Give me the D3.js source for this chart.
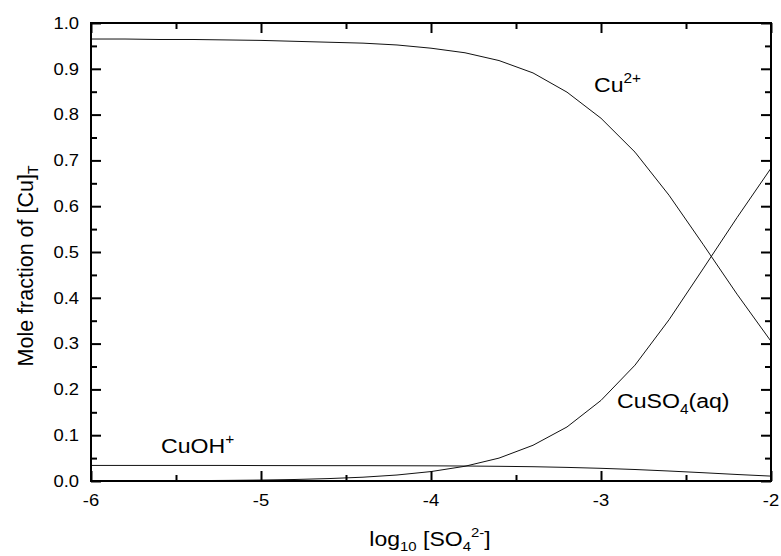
<!DOCTYPE html>
<html>
<head>
<meta charset="utf-8">
<script src="https://cdn.jsdelivr.net/npm/d3@7"></script>
<style>
  body { margin: 0; background: #fff; }
  svg text { font-family: "Liberation Sans", Arial, sans-serif; fill: #000; }
</style>
</head>
<body>
<svg id="chart" width="781" height="556"></svg>
<script>
// ---- data ----
const logSO4 = [-6, -5.8, -5.6, -5.4, -5.2, -5, -4.8, -4.6, -4.4, -4.2, -4, -3.8, -3.6, -3.4, -3.2, -3, -2.8, -2.6, -2.4, -2.2, -2];
const cu2 = [0.965, 0.965, 0.964, 0.964, 0.963, 0.962, 0.960, 0.958, 0.956, 0.952, 0.945, 0.935, 0.918, 0.891, 0.849, 0.792, 0.718, 0.624, 0.517, 0.408, 0.305];
const cuso4 = [0.0002, 0.0003, 0.0005, 0.0008, 0.0013, 0.0021, 0.0033, 0.0053, 0.0083, 0.0131, 0.0206, 0.0322, 0.050, 0.078, 0.118, 0.176, 0.253, 0.352, 0.463, 0.575, 0.683];
const cuoh = [0.034, 0.034, 0.034, 0.034, 0.034, 0.0337, 0.0336, 0.0335, 0.0335, 0.0333, 0.0331, 0.0327, 0.0321, 0.0312, 0.0297, 0.0277, 0.0251, 0.0218, 0.0181, 0.0142, 0.0107];
const xTicks = [-6, -5, -4, -3, -2];
const xTickLabels = ["-6", "-5", "-4", "-3", "-2"];
const xMinor = [-5.5, -4.5, -3.5, -2.5];
const yTicks = [0, 0.1, 0.2, 0.3, 0.4, 0.5, 0.6, 0.7, 0.8, 0.9, 1.0];
const yTickLabels = ["0.0", "0.1", "0.2", "0.3", "0.4", "0.5", "0.6", "0.7", "0.8", "0.9", "1.0"];
const yMinor = [0.05, 0.15, 0.25, 0.35, 0.45, 0.55, 0.65, 0.75, 0.85, 0.95];

// ---- layout ----
const L = 91, R = 771, T = 23, B = 481;
const svg = d3.select("#chart");
const x = d3.scaleLinear().domain([-6, -2]).range([L, R]);
const y = d3.scaleLinear().domain([0, 1]).range([B, T]);
const SX = 1.15;

// curves
const line = d3.line().x((d, i) => x(logSO4[i])).y(d => y(d)).curve(d3.curveLinear);
[cu2, cuso4, cuoh].forEach(s => {
  svg.append("path").datum(s).attr("d", line)
    .attr("fill", "none").attr("stroke", "#111").attr("stroke-width", 1);
});

// axes (ticks inward on all sides)
const major = 10, minor = 6;
function axisG(axis, tr) {
  const g = svg.append("g").attr("transform", tr).call(axis);
  g.selectAll(".domain").remove();
  g.selectAll("text").remove();
  g.selectAll("line").attr("stroke", "#000").attr("stroke-width", 2);
  return g;
}
axisG(d3.axisBottom(x).tickValues(xTicks).tickSize(-major), `translate(0,${B})`);
axisG(d3.axisBottom(x).tickValues(xMinor).tickSize(-minor), `translate(0,${B})`);
axisG(d3.axisTop(x).tickValues(xTicks).tickSize(-major), `translate(0,${T})`);
axisG(d3.axisTop(x).tickValues(xMinor).tickSize(-minor), `translate(0,${T})`);
axisG(d3.axisLeft(y).tickValues(yTicks).tickSize(-major), `translate(${L},0)`);
axisG(d3.axisLeft(y).tickValues(yMinor).tickSize(-minor), `translate(${L},0)`);
axisG(d3.axisRight(y).tickValues(yTicks).tickSize(-major), `translate(${R},0)`);
axisG(d3.axisRight(y).tickValues(yMinor).tickSize(-minor), `translate(${R},0)`);

// frame
svg.append("rect").attr("x", L).attr("y", T).attr("width", R - L).attr("height", B - T)
  .attr("fill", "none").attr("stroke", "#000").attr("stroke-width", 2);

// tick labels (horizontally stretched like the original)
svg.append("g").selectAll("text").data(xTicks).join("text")
  .attr("transform", d => `translate(${x(d)},506) scale(${SX},1)`)
  .attr("text-anchor", "middle").attr("font-size", 16).text((d, i) => xTickLabels[i]);
svg.append("g").selectAll("text").data(yTicks).join("text")
  .attr("transform", d => `translate(79,${y(d) + 5.8}) scale(${SX},1)`)
  .attr("text-anchor", "end").attr("font-size", 16).text((d, i) => yTickLabels[i]);

// axis titles
const xt = svg.append("text").attr("transform", `translate(430,546) scale(${SX},1)`)
  .attr("text-anchor", "middle").attr("font-size", 20);
xt.append("tspan").text("log");
xt.append("tspan").attr("font-size", 13).attr("dy", 5).text("10");
xt.append("tspan").attr("dy", -5).text(" [SO");
xt.append("tspan").attr("font-size", 13).attr("dy", 5).text("4");
xt.append("tspan").attr("font-size", 13).attr("dy", -14).text("2-");
xt.append("tspan").attr("dy", 9).text("]");

const yt = svg.append("text").attr("transform", `translate(33,266) rotate(-90)`)
  .attr("text-anchor", "middle").attr("font-size", 21.5);
yt.append("tspan").text("Mole fraction of [Cu]");
yt.append("tspan").attr("font-size", 14).attr("dy", 5).text("T");

// species labels
function label(xp, yp, parts) {
  const t = svg.append("text").attr("transform", `translate(${xp},${yp}) scale(1.1,1)`).attr("font-size", 21);
  parts.forEach(p => {
    const s = t.append("tspan").text(p.t);
    if (p.fs) s.attr("font-size", p.fs);
    if (p.dy) s.attr("dy", p.dy);
  });
}
label(594, 92, [{t: "Cu"}, {t: "2+", fs: 14, dy: -9}]);
label(161, 453, [{t: "CuOH"}, {t: "+", fs: 14, dy: -9}]);
label(617, 408, [{t: "CuSO"}, {t: "4", fs: 14, dy: 6}, {t: "(aq)", dy: -6}]);
</script>
</body>
</html>
